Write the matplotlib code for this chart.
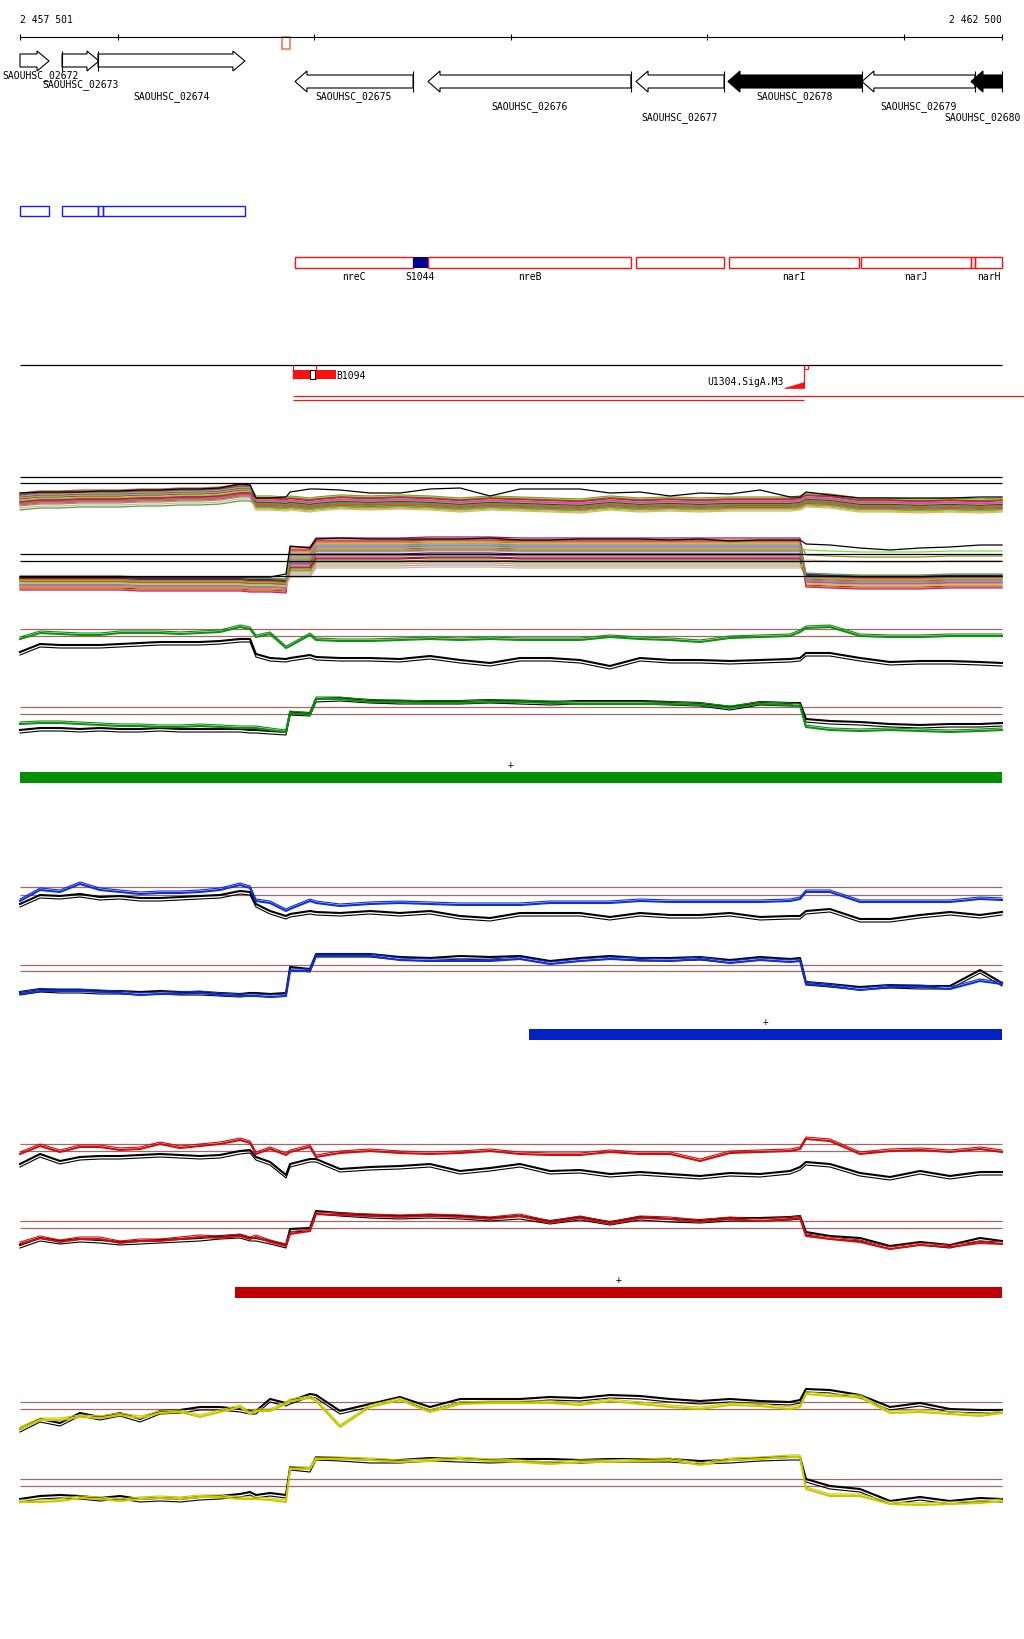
import numpy as np
import matplotlib
matplotlib.use("Agg")
import matplotlib.pyplot as plt
from matplotlib.patches import Rectangle, Polygon
from matplotlib.transforms import offset_copy

plt.rcParams['font.family'] = 'DejaVu Sans Mono'
plt.rcParams['font.size'] = 7

# ---- data -------------------------------------------------------------
START, END = 2457501, 2462500
ruler_ticks = [2458000, 2459000, 2460000, 2461000, 2462000]

gene_names = ['SAOUHSC_02672', 'SAOUHSC_02673', 'SAOUHSC_02674', 'SAOUHSC_02675',
              'SAOUHSC_02676', 'SAOUHSC_02677', 'SAOUHSC_02678', 'SAOUHSC_02679',
              'SAOUHSC_02680']
gene_start = [2457501, 2457715, 2457898, 2458901, 2459578, 2460637, 2461105, 2461787, 2462342]
gene_end = [2457649, 2457903, 2458646, 2459502, 2460611, 2461085, 2461787, 2462362, 2462500]
gene_strand = [1, 1, 1, -1, -1, -1, -1, -1, -1]
gene_filled = [False, False, False, False, False, False, True, False, True]

operon_start = [2457501, 2457715, 2457898, 2457923]
operon_end = [2457649, 2457898, 2457923, 2458646]

feat_names = ['nreC', 'S1044', 'nreB', '', 'narI', 'narJ', '', 'narH']
feat_start = [2458901, 2459502, 2459578, 2460637, 2461110, 2461782, 2462342, 2462362]
feat_end = [2459502, 2459578, 2460611, 2461085, 2461772, 2462342, 2462362, 2462500]
feat_kind = ['gene', 'srna', 'gene', 'gene', 'gene', 'gene', 'gene', 'gene']

# probe positions (bp) shared by all expression profiles
pos = np.array([2457501, 2457603, 2457705, 2457806, 2457908, 2458010, 2458112, 2458214,
                2458316, 2458417, 2458519, 2458621, 2458672, 2458702, 2458774, 2458855,
                2458876, 2458977, 2459008, 2459130, 2459283, 2459435, 2459588, 2459741,
                2459894, 2460046, 2460199, 2460352, 2460504, 2460657, 2460810, 2460963,
                2461115, 2461268, 2461421, 2461472, 2461502, 2461624, 2461777, 2461930,
                2462083, 2462235, 2462388, 2462500])

# all-conditions tracks: mean profile + per-sample deviations
multi_fwd_mean = [2.0, 2.2, 2.2, 2.3, 2.3, 2.3, 2.4, 2.4, 2.5, 2.5, 2.6, 2.9, 2.9, 1.7, 1.7,
                  1.6, 1.7, 1.5, 1.6, 1.8, 1.7, 1.8, 1.7, 1.5, 1.7, 1.6, 1.5, 1.4, 1.7, 1.5,
                  1.6, 1.5, 1.6, 1.6, 1.6, 1.7, 2.0, 1.9, 1.5, 1.5, 1.4, 1.5, 1.4, 1.5]
multi_fwd_top = [2.6, 2.7, 2.7, 2.7, 2.8, 2.8, 2.9, 2.9, 3.0, 3.0, 3.1, 3.5, 3.4, 2.1, 2.1,
                 2.2, 2.7, 3.0, 3.0, 2.9, 2.6, 2.6, 3.0, 3.1, 2.3, 3.0, 3.0, 3.0, 2.6, 2.7,
                 2.3, 2.6, 2.5, 2.9, 2.2, 2.2, 2.7, 2.4, 2.1, 2.1, 2.1, 2.1, 2.2, 2.2]
dev_fwd_left = [0.6, 0.5, 0.45, 0.4, 0.35, 0.3, 0.25, 0.2, 0.15, 0.1, 0.05, 0.0,
                -0.05, -0.1, -0.2, -0.25, -0.3, -0.35, -0.45, -0.5, -0.6, -0.7, -0.9, -1.1]
dev_fwd_right = [0.1, -0.3, 0.6, -0.1, 0.45, -0.6, 0.2, 0.0, -0.45, 0.35, -0.2, 0.5,
                 0.3, -0.7, 0.05, 0.25, -0.05, 0.4, -0.25, 0.15, -0.35, -0.5, -0.8, -0.15]

multi_rev_mean = [1.7, 1.7, 1.7, 1.7, 1.7, 1.7, 1.6, 1.6, 1.6, 1.6, 1.6, 1.6, 1.5, 1.5, 1.5,
                  1.4, 3.8, 3.8, 4.7, 4.7, 4.7, 4.7, 4.8, 4.8, 4.8, 4.7, 4.7, 4.7, 4.7, 4.7,
                  4.7, 4.7, 4.7, 4.7, 4.7, 4.7, 2.0, 1.9, 1.8, 1.8, 1.8, 1.9, 1.9, 1.9]
multi_rev_top = [2.2, 2.2, 2.2, 2.2, 2.2, 2.2, 2.2, 2.2, 2.2, 2.2, 2.2, 2.2, 2.2, 2.2, 2.2,
                 2.5, 5.3, 5.1, 6.0, 6.1, 6.0, 6.0, 6.0, 6.0, 6.1, 5.9, 5.9, 6.0, 6.0, 6.0,
                 5.9, 6.0, 5.8, 5.9, 5.9, 5.9, 5.5, 5.4, 5.1, 4.9, 5.1, 5.2, 5.4, 5.4]
dev_rev_left = [0.6, -0.2, 0.5, 0.1, -0.6, 0.4, 0.0, -0.3, 0.3, -0.7, 0.2, -0.1,
                0.45, -0.45, 0.15, -0.5, 0.35, -0.8, 0.05, -0.25, 0.25, -0.35, -0.15, 0.55]
dev_rev_mid = [1.2, 0.3, 0.9, -0.4, 1.4, -1.0, 0.6, 0.0, -0.7, 1.0, -1.4, 0.4,
               -0.2, 0.8, -1.2, 0.2, -0.6, 1.1, -0.9, 0.5, -0.3, 0.7, -1.6, 0.1]
dev_rev_right = [0.5, -0.3, 2.4, 0.2, -0.6, 0.4, 0.1, -0.4, 0.3, -0.7, 0.2, 2.9,
                 0.45, -0.5, 0.15, -0.2, 0.35, -0.8, 0.0, -0.25, 0.25, -0.1, 1.9, 0.6]
sample_colors = ['#e0502a', '#a0522d', '#9c8a1c', '#c23c9c', '#8b1c62', '#3cc800',
                 '#5ab4f0', '#f088c8', '#a01818', '#e08a1e', '#a898d0', '#78e03c',
                 '#1c1c78', '#c8c81c', '#d2a05a', '#f0785a', '#781e3c', '#d01e5a',
                 '#808000', '#b45ab4', '#c86428', '#8c8c8c', '#e0b080', '#50a050']

# condition tracks: (forward strand, reverse strand), condition vs reference
green_fwd = [3.5, 4.1, 4.0, 3.9, 3.9, 4.1, 4.1, 4.1, 4.0, 4.1, 4.2, 4.7, 4.5, 3.7, 4.0,
             2.6, 2.8, 3.9, 3.4, 3.3, 3.3, 3.4, 3.5, 3.4, 3.5, 3.4, 3.4, 3.4, 3.7, 3.5,
             3.4, 3.2, 3.6, 3.7, 3.8, 4.2, 4.6, 4.7, 3.8, 3.7, 3.7, 3.8, 3.8, 3.8]
green_fwd_ref = [2.2, 3.0, 2.9, 2.9, 2.9, 3.0, 3.1, 3.2, 3.2, 3.2, 3.3, 3.5, 3.5, 2.0, 1.6,
                 1.5, 1.6, 1.9, 1.7, 1.6, 1.6, 1.5, 1.8, 1.4, 1.1, 1.6, 1.6, 1.4, 0.8, 1.6,
                 1.4, 1.4, 1.3, 1.4, 1.5, 1.6, 2.1, 2.1, 1.6, 1.2, 1.3, 1.3, 1.2, 1.1]
green_rev = [2.0, 2.1, 2.1, 2.0, 1.9, 1.8, 1.8, 1.7, 1.7, 1.8, 1.7, 1.6, 1.6, 1.6, 1.4,
             1.2, 3.1, 2.9, 4.5, 4.5, 4.2, 4.2, 4.1, 4.1, 4.2, 4.2, 4.1, 4.0, 4.0, 4.0,
             4.0, 3.9, 3.6, 4.0, 3.9, 3.8, 1.7, 1.4, 1.3, 1.4, 1.3, 1.2, 1.3, 1.4]
green_rev_ref = [1.4, 1.6, 1.6, 1.5, 1.6, 1.5, 1.5, 1.6, 1.5, 1.5, 1.5, 1.5, 1.4, 1.4, 1.3,
                 1.2, 3.2, 3.1, 4.5, 4.6, 4.4, 4.3, 4.3, 4.3, 4.4, 4.3, 4.2, 4.3, 4.3, 4.3,
                 4.2, 4.1, 3.7, 4.2, 4.1, 4.1, 2.5, 2.3, 2.2, 2.0, 1.9, 2.0, 2.0, 2.1]
blue_fwd = [3.3, 4.4, 4.2, 5.0, 4.4, 4.2, 4.0, 4.1, 4.1, 4.2, 4.4, 4.9, 4.6, 3.3, 3.1,
            2.3, 2.5, 3.3, 3.1, 2.8, 3.0, 3.1, 3.0, 2.9, 2.9, 2.9, 3.1, 3.1, 3.1, 3.3,
            3.2, 3.2, 3.2, 3.2, 3.3, 3.5, 4.2, 4.2, 3.2, 3.2, 3.2, 3.2, 3.5, 3.4]
blue_fwd_ref = [3.0, 3.9, 3.8, 4.0, 3.7, 3.8, 3.6, 3.6, 3.7, 3.8, 3.9, 4.3, 4.2, 3.0, 2.3,
                1.8, 2.0, 2.3, 2.2, 2.1, 2.3, 2.1, 2.3, 1.8, 1.6, 2.1, 2.1, 2.1, 1.7, 2.1,
                1.9, 1.9, 2.1, 1.7, 1.8, 1.8, 2.3, 2.5, 1.5, 1.5, 1.9, 2.2, 1.9, 2.2]
blue_rev = [1.0, 1.3, 1.3, 1.3, 1.2, 1.1, 0.9, 1.0, 1.0, 1.1, 0.9, 0.8, 0.8, 0.8, 0.7,
            0.8, 3.3, 3.3, 4.8, 4.8, 4.8, 4.4, 4.3, 4.3, 4.3, 4.5, 4.0, 4.3, 4.5, 4.4,
            4.3, 4.5, 4.1, 4.4, 4.2, 4.3, 2.0, 1.8, 1.4, 1.7, 1.7, 1.5, 2.3, 2.0]
blue_rev_ref = [1.2, 1.5, 1.4, 1.4, 1.3, 1.3, 1.2, 1.3, 1.2, 1.2, 1.1, 1.0, 1.1, 1.1, 1.0,
                1.1, 3.7, 3.5, 5.0, 5.0, 5.0, 4.7, 4.6, 4.8, 4.7, 4.8, 4.3, 4.6, 4.8, 4.6,
                4.6, 4.7, 4.4, 4.7, 4.5, 4.6, 2.2, 2.0, 1.7, 1.9, 1.8, 1.8, 3.4, 2.1]
red_fwd = [3.5, 4.3, 3.7, 4.2, 4.2, 3.9, 4.0, 4.5, 4.1, 4.3, 4.5, 4.9, 4.6, 3.5, 4.0,
           3.4, 3.7, 4.2, 3.2, 3.6, 3.8, 3.6, 3.5, 3.6, 3.8, 3.5, 3.4, 3.4, 3.7, 3.5,
           3.5, 2.8, 3.6, 3.7, 3.8, 4.0, 5.0, 4.8, 3.5, 3.8, 3.9, 3.7, 4.0, 3.7]
red_fwd_ref = [2.5, 3.5, 2.8, 3.2, 3.3, 3.3, 3.4, 3.5, 3.4, 3.3, 3.4, 3.8, 3.9, 3.2, 2.7,
               1.4, 2.5, 3.0, 3.0, 2.0, 2.2, 2.3, 2.5, 1.8, 2.1, 2.5, 1.8, 1.9, 1.5, 1.7,
               1.5, 1.3, 1.6, 1.5, 1.8, 2.2, 2.7, 2.5, 1.6, 1.2, 1.8, 1.3, 1.7, 1.7]
red_rev = [2.0, 2.6, 2.2, 2.5, 2.5, 2.1, 2.3, 2.3, 2.5, 2.7, 2.6, 2.8, 2.5, 2.7, 2.2,
           1.8, 3.0, 3.3, 5.0, 4.9, 4.8, 4.7, 4.8, 4.7, 4.5, 4.8, 4.1, 4.6, 4.0, 4.6,
           4.5, 4.2, 4.5, 4.3, 4.5, 4.6, 2.8, 2.5, 2.2, 1.5, 1.9, 1.7, 2.1, 2.0]
red_rev_ref = [1.9, 2.6, 2.3, 2.5, 2.4, 2.2, 2.3, 2.4, 2.5, 2.6, 2.8, 2.9, 2.6, 2.6, 2.3,
               1.9, 3.5, 3.6, 5.3, 5.1, 4.9, 4.8, 4.9, 4.8, 4.6, 4.8, 4.3, 4.7, 4.2, 4.7,
               4.5, 4.4, 4.6, 4.6, 4.7, 4.8, 3.2, 2.8, 2.6, 1.8, 2.2, 1.9, 2.6, 2.3]
yellow_fwd = [1.0, 1.9, 1.9, 2.2, 2.1, 2.4, 2.1, 2.6, 2.7, 2.2, 2.7, 3.2, 2.5, 2.8, 2.8,
              3.5, 3.8, 4.1, 3.8, 1.2, 3.2, 3.9, 2.7, 3.5, 3.6, 3.6, 3.6, 3.4, 3.8, 3.5,
              3.2, 3.0, 3.4, 3.3, 3.0, 3.2, 4.5, 4.3, 4.2, 2.6, 2.7, 2.5, 2.3, 2.6]
yellow_fwd_ref = [1.0, 2.0, 1.6, 2.6, 2.2, 2.6, 2.0, 2.8, 2.9, 3.2, 3.2, 3.0, 2.8, 2.8, 4.0,
                  3.6, 3.8, 4.5, 4.4, 2.8, 3.5, 4.2, 3.2, 4.0, 4.0, 4.0, 4.2, 4.1, 4.4, 4.3,
                  4.0, 3.8, 4.0, 3.8, 3.7, 3.9, 5.0, 4.9, 4.4, 3.2, 3.6, 3.0, 2.9, 2.9]
yellow_rev = [0.7, 0.7, 0.8, 1.1, 1.0, 0.8, 1.0, 1.1, 1.0, 1.2, 1.2, 1.0, 1.0, 1.0, 0.9,
              0.7, 4.0, 4.0, 5.0, 5.0, 4.9, 4.7, 4.8, 5.0, 4.8, 4.7, 4.5, 4.7, 4.7, 4.8,
              4.9, 4.4, 4.9, 5.0, 5.2, 5.2, 2.0, 1.3, 1.3, 0.5, 0.4, 0.5, 0.6, 0.8]
yellow_rev_ref = [1.0, 1.3, 1.4, 1.3, 1.1, 1.3, 1.0, 1.1, 1.0, 1.2, 1.3, 1.5, 1.7, 1.4, 1.6,
                  1.4, 4.2, 4.0, 5.2, 5.1, 4.9, 4.9, 5.1, 5.0, 4.9, 5.0, 5.0, 4.9, 5.0, 5.0,
                  5.0, 4.8, 4.9, 5.1, 5.2, 5.2, 3.0, 2.3, 2.0, 0.8, 1.2, 0.8, 1.1, 1.0]

cutoff_fwd = {'green': [4.5, 3.8], 'blue': [4.7, 3.9], 'red': [4.5, 3.8], 'yellow': [3.7, 3.0]}
cutoff_rev = {'green': [3.7, 3.0], 'blue': [3.9, 3.3], 'red': [4.3, 3.6], 'yellow': [3.0, 2.3]}
# significant region bars per condition (start, end)
region_start = {'green': 2457501, 'blue': 2460092, 'red': 2458596}
region_end = {'green': 2462500, 'blue': 2462500, 'red': 2462500}

# ---- layout -----------------------------------------------------------
W, H = 1024, 1640
BP_PX = (END - START) / 982.0
XL = (START - 20 * BP_PX, START + (W - 20) * BP_PX)

fig = plt.figure(figsize=(W / 100, H / 100), dpi=100)
fig.patch.set_facecolor('white')

ann = fig.add_axes([0, 0, 1, 1])
ann.set_xlim(XL)
ann.set_ylim(H, 0)
ann.axis('off')


def track(top, bottom):
    ax = fig.add_axes([0, 1 - bottom / H, 1, (bottom - top) / H])
    ax.set_xlim(XL)
    ax.set_ylim(0, (bottom - top) / 10.0)
    ax.axis('off')
    ax.patch.set_alpha(0)
    return ax


# ruler
ann.hlines(38, START, END, color='black', lw=0.8)
for t in [START] + ruler_ticks + [END]:
    ann.vlines(t, 35, 41, color='black', lw=0.8)
ann.text(START, 20, '2 457 501', ha='left', va='center')
ann.text(END, 20, '2 462 500', ha='right', va='center')
ann.add_patch(Rectangle((2458837, 38), 38, 12, fc='white', ec='#f07860', lw=1.2))

# genes
hl = 12 * BP_PX
label_rows = [76, 85, 97, 97, 107, 118, 97, 107, 118]
for i, name in enumerate(gene_names):
    s, e = gene_start[i], gene_end[i]
    if gene_strand[i] > 0:
        b0, b1, h0, h1 = 55, 68, 52, 72
        pts = [(s, b0), (e - hl, b0), (e - hl, h0), (e, (h0 + h1) / 2),
               (e - hl, h1), (e - hl, b1), (s, b1)]
        if i > 0:
            ann.vlines(s, h0, h1, color='black', lw=0.8)
    else:
        b0, b1, h0, h1 = 76, 89, 72, 93
        pts = [(e, b0), (s + hl, b0), (s + hl, h0), (s, (h0 + h1) / 2),
               (s + hl, h1), (s + hl, b1), (e, b1)]
        ann.vlines(e, h0, h1, color='black', lw=0.8)
    fc = 'black' if gene_filled[i] else 'white'
    ann.add_patch(Polygon(pts, closed=True, fc=fc, ec='black', lw=0.8))
    # keep labels inside the picture
    cx = min(max((s + e) / 2, XL[0] + 41 * BP_PX), XL[1] - 41 * BP_PX)
    ann.text(cx, label_rows[i], name, ha='center', va='center')

# operon boxes
for s, e in zip(operon_start, operon_end):
    ann.add_patch(Rectangle((s, 207), e - s, 10, fc='none', ec='#1a1aff', lw=1.0))

# annotated features
for name, s, e, k in zip(feat_names, feat_start, feat_end, feat_kind):
    if k == 'srna':
        ann.add_patch(Rectangle((s, 258), e - s, 11, fc='#000090', ec='#000090', lw=0))
    else:
        ann.add_patch(Rectangle((s, 258), e - s, 11, fc='none', ec='#ff1010', lw=1.0))
    if name:
        ann.text((s + e) / 2, 277, name, ha='center', va='center')

# transcripts / promoters
ann.hlines(366, START, END, color='black', lw=0.9)
ann.add_patch(Rectangle((2458891, 371), 219, 9, fc='#ff1010', ec='none'))
ann.vlines([2458891, 2459008], 366, 380, color='#ff1010', lw=0.9)
ann.add_patch(Rectangle((2458978, 371), 24, 9, fc='white', ec='black', lw=0.8))
ann.text(2459112, 376, 'B1094', ha='left', va='center')
ann.add_patch(Polygon([(2461390, 389), (2461492, 389), (2461492, 383)], closed=True,
                      fc='#ff1010', ec='#ff1010', lw=0.5))
ann.vlines(2461492, 366, 389, color='#ff1010', lw=0.9)
ann.add_patch(Rectangle((2461492, 366), 18, 4, fc='white', ec='#ff1010', lw=0.8))
ann.text(2461386, 382, 'U1304.SigA.M3', ha='right', va='center')
ann.hlines(397, 2458891, XL[1], color='#ff1010', lw=0.9)
ann.hlines(401, 2458891, 2461492, color='#ff1010', lw=0.9)

# all-conditions tracks
axA = track(470, 520)
axB = track(530, 600)
left_a = pos <= 2458672
for i, c in enumerate(sample_colors):
    dev = np.where(left_a, dev_fwd_left[i], dev_fwd_right[i])
    axA.plot(pos, np.array(multi_fwd_mean) + dev, color=c, lw=0.9)
    dev = np.select([pos < 2458865, pos > 2461487],
                    [dev_rev_left[i], dev_rev_right[i]], dev_rev_mid[i])
    axB.plot(pos, np.array(multi_rev_mean) + dev, color=c, lw=0.9)
axA.plot(pos, multi_fwd_top, color='black', lw=0.9)
axB.plot(pos, multi_rev_top, color='black', lw=0.9)
axA.hlines([4.2, 3.6], START, END, color='black', lw=0.9)
axB.hlines([4.5, 3.8, 2.3], START, END, color='black', lw=0.9)

# per-condition tracks
conds = [
    ('green', '#109010', '#009000', green_fwd, green_fwd_ref, green_rev, green_rev_ref, 615, 685, 773),
    ('blue', '#1030d0', '#0022c4', blue_fwd, blue_fwd_ref, blue_rev, blue_rev_ref, 875, 945, 1030),
    ('red', '#c81010', '#c00000', red_fwd, red_fwd_ref, red_rev, red_rev_ref, 1130, 1205, 1288),
    ('yellow', '#c8c800', None, yellow_fwd, yellow_fwd_ref, yellow_rev, yellow_rev_ref, 1380, 1450, None),
]
brown = '#a06868'
for key, lc, bc, f, fr, r, rr, t_fwd, t_rev, bar_y in conds:
    for ax, cond, ref, cut in [(track(t_fwd, t_fwd + 60), f, fr, cutoff_fwd[key]),
                               (track(t_rev, t_rev + 60), r, rr, cutoff_rev[key])]:
        ax.hlines(cut, START, END, color=brown, lw=0.9)
        shifted = offset_copy(ax.transData, fig=fig, x=0, y=-3, units='dots')
        ax.plot(pos, ref, color='black', lw=1.5)
        ax.plot(pos, ref, color='black', lw=0.8, transform=shifted)
        ax.plot(pos, cond, color=lc, lw=1.5)
        ax.plot(pos, cond, color=lc, lw=0.8,
                transform=offset_copy(ax.transData, fig=fig, x=0, y=2, units='dots'))
    if bc is not None:
        s, e = region_start[key], region_end[key]
        ann.add_patch(Rectangle((s, bar_y), e - s, 11, fc=bc, ec='none'))
        ann.text((s + e) / 2, bar_y - 8, '+', ha='center', va='center', fontsize=7)

fig.savefig('out.png', dpi=100, facecolor='white')
